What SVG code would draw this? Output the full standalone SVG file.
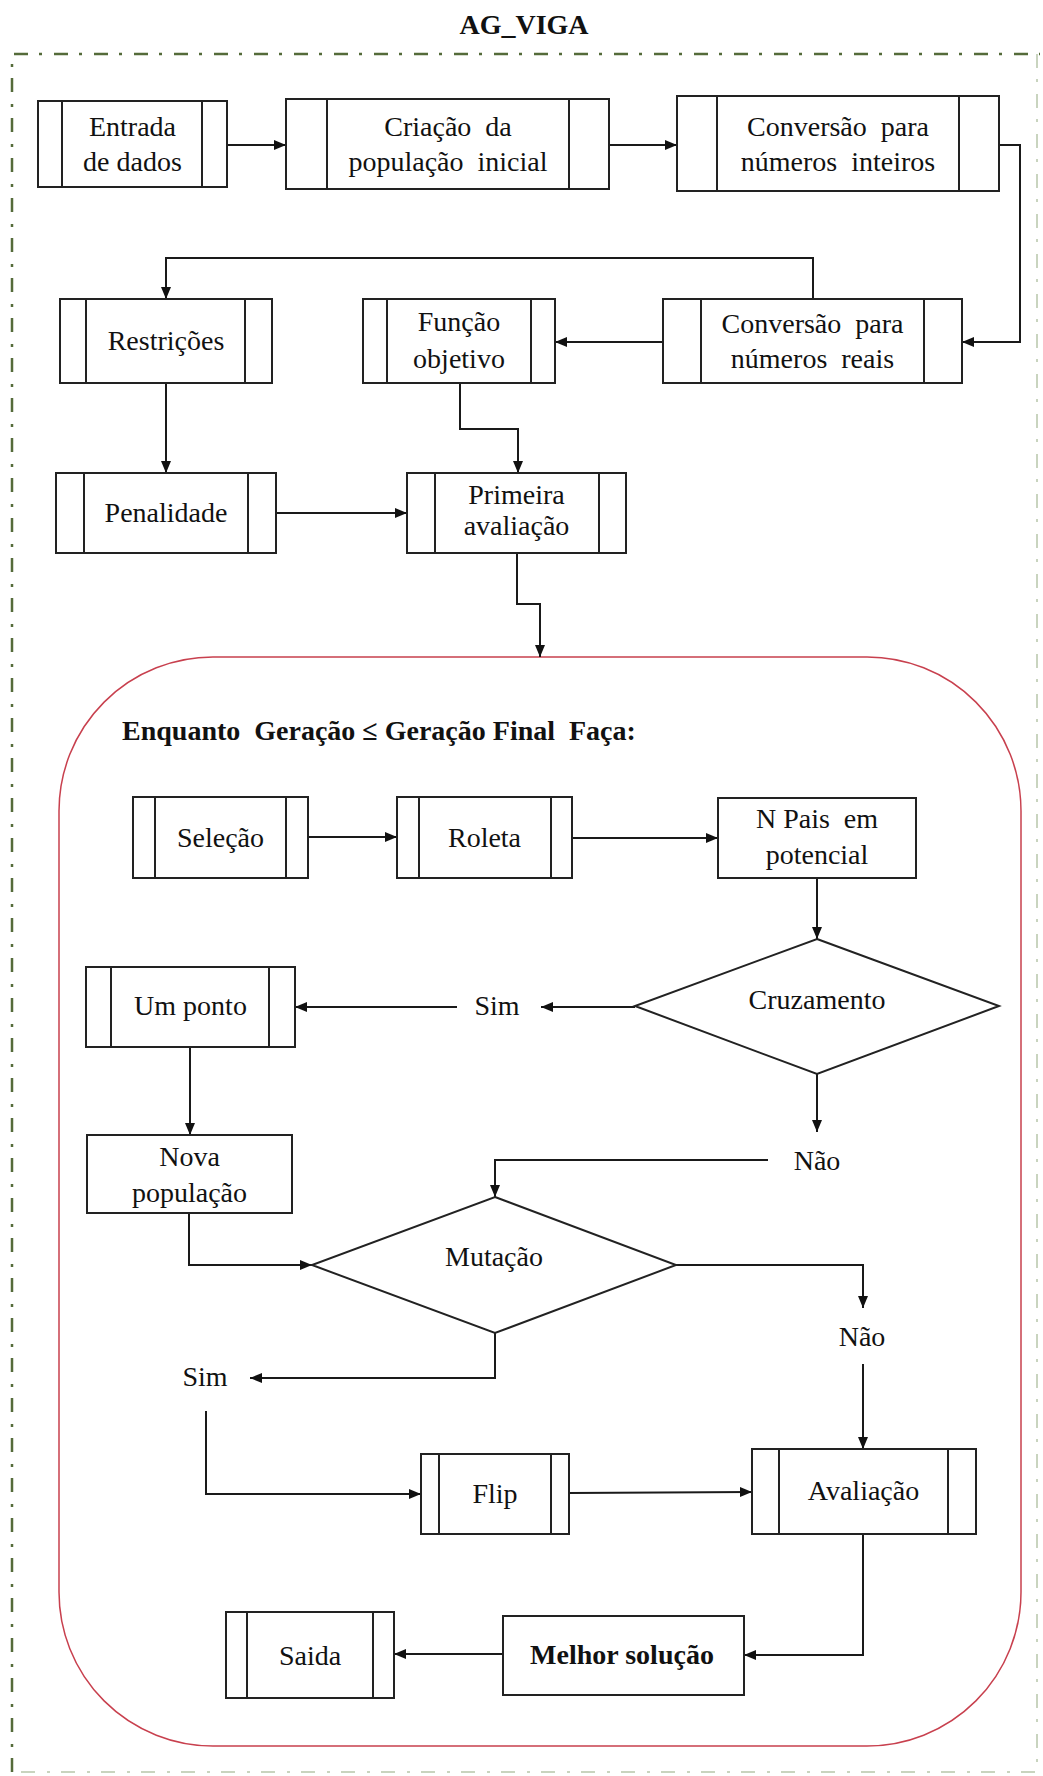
<svg xmlns="http://www.w3.org/2000/svg" width="1043" height="1776" viewBox="0 0 1043 1776">
<style>
.bx{fill:#fff;stroke:#222;stroke-width:2}
.ln{stroke:#222;stroke-width:2;fill:none}
.t{font-family:"Liberation Serif","Times New Roman",serif;font-size:28px;fill:#111;text-anchor:middle}
.b{font-weight:bold}
.c{stroke:#1a1a1a;stroke-width:2;fill:none;marker-end:url(#ah)}
.cn{stroke:#1a1a1a;stroke-width:2;fill:none}
.frame{stroke:#556b3a;stroke-width:2.5;fill:none;stroke-dasharray:14 11 3 12}
.frame2{stroke:#c9d4bf;stroke-width:2;fill:none;stroke-dasharray:14 11 3 12}
</style>
<defs>
<marker id="ah" markerUnits="userSpaceOnUse" markerWidth="13" markerHeight="11" refX="12" refY="5" orient="auto">
<path d="M0,0 L12,5 L0,10 z" fill="#111"/>
</marker>
</defs>
<rect width="1043" height="1776" fill="#fff"/>
<text class="t b" x="524" y="34" font-size="27">AG_VIGA</text>
<g id="frame">
<path class="frame" d="M12,1772 L12,54 L1040,54"/>
<path class="frame2" d="M1037,54 L1037,1772 L12,1772"/>
</g>
<g id="loop">
<rect x="59" y="657" width="962" height="1089" rx="154" ry="154" fill="none" stroke="#c8404e" stroke-width="1.5"/>
<text class="t b" x="122" y="740" text-anchor="start" style="text-anchor:start" xml:space="preserve">Enquanto  Geração ≤ Geração Final  Faça:</text>
</g>
<g id="connectors">
<path class="c" d="M227,145 L286,145"/>
<path class="c" d="M609,145 L677,145"/>
<path class="c" d="M999,145 L1020,145 L1020,342 L962,342"/>
<path class="c" d="M663,342 L555,342"/>
<path class="c" d="M813,299 L813,258 L166,258 L166,299"/>
<path class="c" d="M166,383 L166,473"/>
<path class="c" d="M460,383 L460,429 L518,429 L518,473"/>
<path class="c" d="M276,513 L407,513"/>
<path class="c" d="M517,553 L517,604 L540,604 L540,657"/>
<path class="c" d="M308,837 L397,837"/>
<path class="c" d="M572,838 L718,838"/>
<path class="c" d="M817,878 L817,939"/>
<path class="c" d="M635,1007 L541,1007"/>
<path class="c" d="M457,1007 L295,1007"/>
<path class="c" d="M190,1047 L190,1135"/>
<path class="c" d="M817,1074 L817,1132"/>
<path class="c" d="M768,1160 L495,1160 L495,1197"/>
<path class="c" d="M189,1213 L189,1265 L312,1265"/>
<path class="c" d="M676,1265 L863,1265 L863,1308"/>
<path class="c" d="M863,1364 L863,1449"/>
<path class="c" d="M495,1333 L495,1378 L250,1378"/>
<path class="c" d="M206,1411 L206,1494 L421,1494"/>
<path class="c" d="M569,1493 L752,1492"/>
<path class="c" d="M863,1534 L863,1655 L744,1655"/>
<path class="c" d="M503,1654 L394,1654"/>
</g>
<g id="n-entrada">
<rect class="bx" x="38" y="101" width="189" height="86"/>
<path class="ln" d="M62,101 V187 M202,101 V187"/>
<text class="t" x="132.5" y="136">Entrada</text>
<text class="t" x="132.5" y="171">de dados</text>
</g>
<g id="n-criacao">
<rect class="bx" x="286" y="99" width="323" height="90"/>
<path class="ln" d="M327,99 V189 M569,99 V189"/>
<text class="t" x="448" y="136" xml:space="preserve">Criação  da</text>
<text class="t" x="448" y="171" xml:space="preserve">população  inicial</text>
</g>
<g id="n-conv-int">
<rect class="bx" x="677" y="96" width="322" height="95"/>
<path class="ln" d="M717,96 V191 M959,96 V191"/>
<text class="t" x="838" y="136" xml:space="preserve">Conversão  para</text>
<text class="t" x="838" y="171" xml:space="preserve">números  inteiros</text>
</g>
<g id="n-conv-real">
<rect class="bx" x="663" y="299" width="299" height="84"/>
<path class="ln" d="M701,299 V383 M924,299 V383"/>
<text class="t" x="812.5" y="333" xml:space="preserve">Conversão  para</text>
<text class="t" x="812.5" y="368" xml:space="preserve">números  reais</text>
</g>
<g id="n-funcao">
<rect class="bx" x="363" y="299" width="192" height="84"/>
<path class="ln" d="M387,299 V383 M531,299 V383"/>
<text class="t" x="459" y="331">Função</text>
<text class="t" x="459" y="368">objetivo</text>
</g>
<g id="n-restricoes">
<rect class="bx" x="60" y="299" width="212" height="84"/>
<path class="ln" d="M86,299 V383 M245,299 V383"/>
<text class="t" x="166" y="350">Restrições</text>
</g>
<g id="n-penalidade">
<rect class="bx" x="56" y="473" width="220" height="80"/>
<path class="ln" d="M84,473 V553 M248,473 V553"/>
<text class="t" x="166" y="522">Penalidade</text>
</g>
<g id="n-primeira">
<rect class="bx" x="407" y="473" width="219" height="80"/>
<path class="ln" d="M435,473 V553 M599,473 V553"/>
<text class="t" x="516.5" y="504">Primeira</text>
<text class="t" x="516.5" y="535">avaliação</text>
</g>
<g id="n-selecao">
<rect class="bx" x="133" y="797" width="175" height="81"/>
<path class="ln" d="M155,797 V878 M286,797 V878"/>
<text class="t" x="220.5" y="847">Seleção</text>
</g>
<g id="n-roleta">
<rect class="bx" x="397" y="797" width="175" height="81"/>
<path class="ln" d="M419,797 V878 M551,797 V878"/>
<text class="t" x="484.5" y="847">Roleta</text>
</g>
<g id="n-npais">
<rect class="bx" x="718" y="798" width="198" height="80"/>
<text class="t" x="817" y="828" xml:space="preserve">N Pais  em</text>
<text class="t" x="817" y="864">potencial</text>
</g>
<g id="n-cruzamento">
<polygon class="bx" points="817,939 999,1006 817,1074 635,1006"/>
<text class="t" x="817" y="1009">Cruzamento</text>
</g>
<g id="l-sim1"><text class="t" x="497" y="1015">Sim</text></g>
<g id="n-umponto">
<rect class="bx" x="86" y="967" width="209" height="80"/>
<path class="ln" d="M111,967 V1047 M269,967 V1047"/>
<text class="t" x="190.5" y="1015">Um ponto</text>
</g>
<g id="n-nova">
<rect class="bx" x="87" y="1135" width="205" height="78"/>
<text class="t" x="189.5" y="1166">Nova</text>
<text class="t" x="189.5" y="1202">população</text>
</g>
<g id="l-nao1"><text class="t" x="817" y="1170">Não</text></g>
<g id="n-mutacao">
<polygon class="bx" points="495,1197 676,1265 495,1333 312,1265"/>
<text class="t" x="494" y="1266">Mutação</text>
</g>
<g id="l-nao2"><text class="t" x="862" y="1346">Não</text></g>
<g id="l-sim2"><text class="t" x="205" y="1386">Sim</text></g>
<g id="n-flip">
<rect class="bx" x="421" y="1454" width="148" height="80"/>
<path class="ln" d="M439,1454 V1534 M551,1454 V1534"/>
<text class="t" x="495" y="1503">Flip</text>
</g>
<g id="n-avaliacao">
<rect class="bx" x="752" y="1449" width="224" height="85"/>
<path class="ln" d="M779,1449 V1534 M948,1449 V1534"/>
<text class="t" x="863.5" y="1500">Avaliação</text>
</g>
<g id="n-melhor">
<rect class="bx" x="503" y="1616" width="241" height="79"/>
<text class="t b" x="622" y="1664" font-size="27">Melhor solução</text>
</g>
<g id="n-saida">
<rect class="bx" x="226" y="1612" width="168" height="86"/>
<path class="ln" d="M247,1612 V1698 M373,1612 V1698"/>
<text class="t" x="310" y="1665">Saida</text>
</g>
</svg>
